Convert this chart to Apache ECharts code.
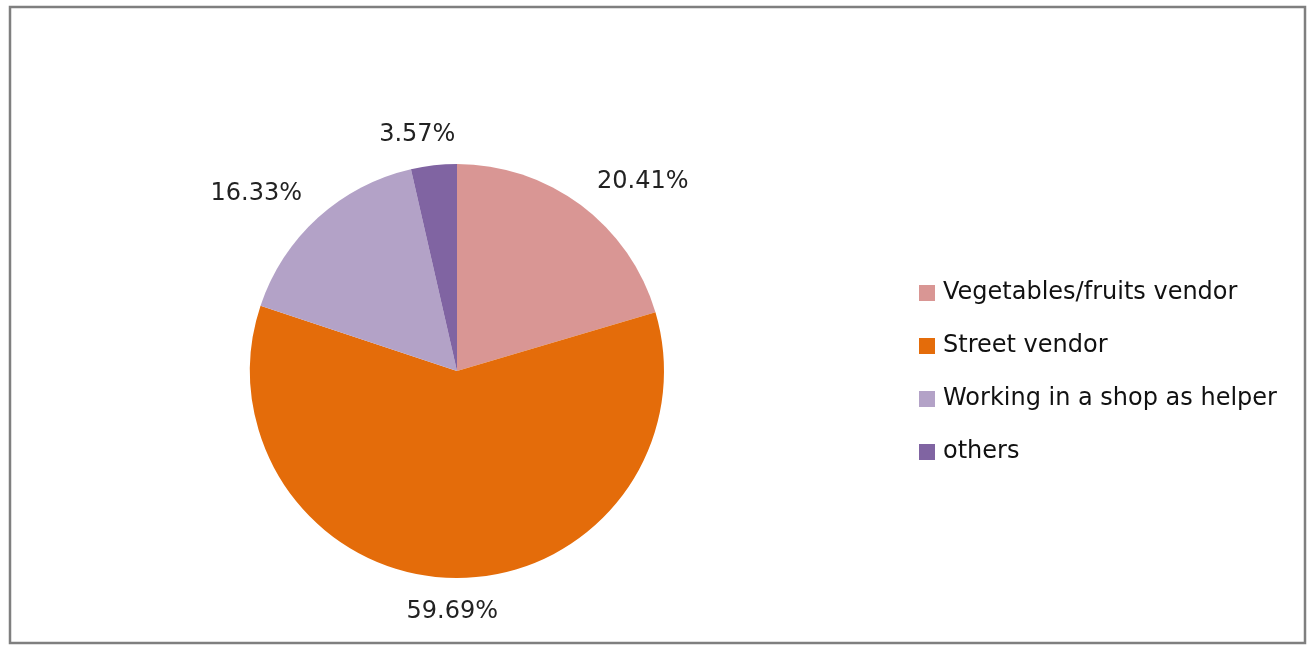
<!DOCTYPE html>
<html lang="en">
<head>
    <meta charset="utf-8" />
    <title>Occupation pie</title>
    <script src="https://cdn.jsdelivr.net/npm/echarts@6/dist/echarts.min.js"></script>
    <style>
        html, body { margin: 0; padding: 0; background: #fff; }
        #main { width: 1315px; height: 655px; }
    </style>
</head>
<body>
    <div id="main"></div>
    <script>
        // data
        var categories = ['Vegetables/fruits vendor', 'Street vendor', 'Working in a shop as helper', 'others'];
        var shares = [20.41, 59.69, 16.33, 3.57];
        var colors = ['#d99694', '#e46c0a', '#b3a2c7', '#8064a2'];

        // label nudges so they sit where the original puts them
        var labelAlign = [null, 'center', null, null];
        var labelDx = [-2, 4, 4, 29];
        var labelDy = [-6, 12, -8, -9];

        var myChart = echarts.init(document.getElementById('main'));

        var pieData = categories.map(function (name, i) {
            return { name: name, value: shares[i], itemStyle: { color: colors[i] } };
        });

        var option = {
            animation: false,
            graphic: [{
                type: 'rect',
                shape: { x: 10, y: 7, width: 1295, height: 636 },
                style: { fill: 'none', stroke: '#7f7f7f', lineWidth: 2.5 },
                silent: true
            }],
            legend: {
                orient: 'vertical',
                left: 919,
                top: 281,
                padding: 0,
                itemWidth: 16,
                itemHeight: 16,
                itemGap: 29,
                icon: 'rect',
                selectedMode: false,
                textStyle: {
                    fontFamily: 'DejaVu Sans',
                    fontSize: 24,
                    color: '#111111',
                    padding: [0, 0, 0, 3]
                },
                data: categories
            },
            series: [{
                type: 'pie',
                center: [457, 371],
                radius: 207,
                startAngle: 90,
                clockwise: true,
                avoidLabelOverlap: false,
                itemStyle: { borderWidth: 0 },
                emphasis: { disabled: true },
                label: {
                    show: true,
                    position: 'outside',
                    formatter: function (p) { return p.value.toFixed(2) + '%'; },
                    fontFamily: 'DejaVu Sans',
                    fontSize: 24,
                    color: '#222222'
                },
                labelLine: { show: false, length: 22, length2: 0 },
                labelLayout: function (params) {
                    var i = params.dataIndex;
                    var out = { dx: labelDx[i], dy: labelDy[i] };
                    if (labelAlign[i]) out.align = labelAlign[i];
                    return out;
                },
                data: pieData
            }]
        };

        myChart.setOption(option);
    </script>
</body>
</html>
